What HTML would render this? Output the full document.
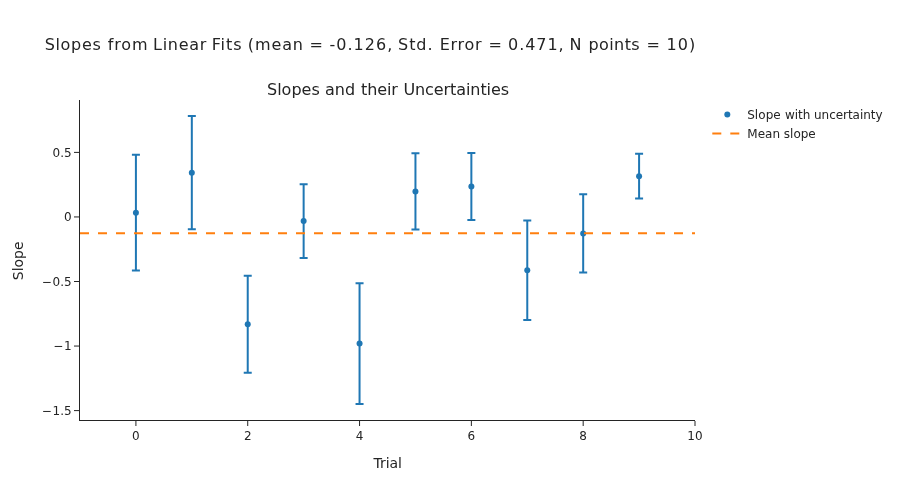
<!DOCTYPE html>
<html><head><meta charset="utf-8"><title>Slopes</title>
<style>
html,body{margin:0;padding:0;background:#fff;}
svg{display:block;font-family:"DejaVu Sans","Liberation Sans",sans-serif;}
</style></head><body>
<svg width="900" height="500" viewBox="0 0 900 500">
<rect width="900" height="500" fill="#fff"/>
<path d="M131.91,154.8h8m-4,0V270.6m-4,0h8" stroke="#1f77b4" stroke-width="2" fill="none"/>
<path d="M187.82,116.0h8m-4,0V229.35m-4,0h8" stroke="#1f77b4" stroke-width="2" fill="none"/>
<path d="M243.73,275.7h8m-4,0V372.7m-4,0h8" stroke="#1f77b4" stroke-width="2" fill="none"/>
<path d="M299.64,184.2h8m-4,0V257.9m-4,0h8" stroke="#1f77b4" stroke-width="2" fill="none"/>
<path d="M355.55,283.3h8m-4,0V404.0m-4,0h8" stroke="#1f77b4" stroke-width="2" fill="none"/>
<path d="M411.45,153.2h8m-4,0V229.6m-4,0h8" stroke="#1f77b4" stroke-width="2" fill="none"/>
<path d="M467.36,153.0h8m-4,0V220.0m-4,0h8" stroke="#1f77b4" stroke-width="2" fill="none"/>
<path d="M523.27,220.6h8m-4,0V320.0m-4,0h8" stroke="#1f77b4" stroke-width="2" fill="none"/>
<path d="M579.18,194.3h8m-4,0V272.6m-4,0h8" stroke="#1f77b4" stroke-width="2" fill="none"/>
<path d="M635.09,153.8h8m-4,0V198.6m-4,0h8" stroke="#1f77b4" stroke-width="2" fill="none"/>
<circle cx="135.91" cy="212.7" r="3" fill="#1f77b4"/>
<circle cx="191.82" cy="172.7" r="3" fill="#1f77b4"/>
<circle cx="247.73" cy="324.25" r="3" fill="#1f77b4"/>
<circle cx="303.64" cy="221.0" r="3" fill="#1f77b4"/>
<circle cx="359.55" cy="343.55" r="3" fill="#1f77b4"/>
<circle cx="415.45" cy="191.4" r="3" fill="#1f77b4"/>
<circle cx="471.36" cy="186.4" r="3" fill="#1f77b4"/>
<circle cx="527.27" cy="270.3" r="3" fill="#1f77b4"/>
<circle cx="583.18" cy="233.5" r="3" fill="#1f77b4"/>
<circle cx="639.09" cy="176.2" r="3" fill="#1f77b4"/>
<path d="M80,233.25L695,233.25" stroke="#ff7f0e" stroke-width="2" stroke-dasharray="9,9" fill="none"/>
<path d="M79.5,100V421" stroke="#242424" stroke-width="1" fill="none"/>
<path d="M79,420.5H695" stroke="#242424" stroke-width="1" fill="none"/>
<path d="M135.91,421v5" stroke="#242424" stroke-width="1"/>
<text x="135.91" y="440.4" text-anchor="middle" font-size="12" fill="#242424">0</text>
<path d="M247.73,421v5" stroke="#242424" stroke-width="1"/>
<text x="247.73" y="440.4" text-anchor="middle" font-size="12" fill="#242424">2</text>
<path d="M359.55,421v5" stroke="#242424" stroke-width="1"/>
<text x="359.55" y="440.4" text-anchor="middle" font-size="12" fill="#242424">4</text>
<path d="M471.36,421v5" stroke="#242424" stroke-width="1"/>
<text x="471.36" y="440.4" text-anchor="middle" font-size="12" fill="#242424">6</text>
<path d="M583.18,421v5" stroke="#242424" stroke-width="1"/>
<text x="583.18" y="440.4" text-anchor="middle" font-size="12" fill="#242424">8</text>
<path d="M695.00,421v5" stroke="#242424" stroke-width="1"/>
<text x="695.00" y="440.4" text-anchor="middle" font-size="12" fill="#242424">10</text>
<path d="M79,152.4h-5" stroke="#242424" stroke-width="1"/>
<text x="71.6" y="156.60" text-anchor="end" font-size="12" fill="#242424">0.5</text>
<path d="M79,216.95h-5" stroke="#242424" stroke-width="1"/>
<text x="71.6" y="221.15" text-anchor="end" font-size="12" fill="#242424">0</text>
<path d="M79,281.5h-5" stroke="#242424" stroke-width="1"/>
<text x="71.6" y="285.70" text-anchor="end" font-size="12" fill="#242424"><tspan>−</tspan><tspan dx="0.6">0.5</tspan></text>
<path d="M79,346.05h-5" stroke="#242424" stroke-width="1"/>
<text x="71.6" y="350.25" text-anchor="end" font-size="12" fill="#242424"><tspan>−</tspan><tspan dx="0.6">1</tspan></text>
<path d="M79,410.6h-5" stroke="#242424" stroke-width="1"/>
<text x="71.6" y="414.80" text-anchor="end" font-size="12" fill="#242424"><tspan>−</tspan><tspan dx="0.6">1.5</tspan></text>
<text id="title" y="50" font-size="16" fill="#242424" xml:space="preserve"><tspan x="44.65" letter-spacing="0.680">Slopes</tspan> <tspan x="107.75" letter-spacing="0.866">from</tspan> <tspan x="153.10" letter-spacing="0.690">Linear</tspan> <tspan x="211.65" letter-spacing="0.917">Fits</tspan> <tspan x="247.85" letter-spacing="0.875">(mean</tspan> <tspan x="309.40" letter-spacing="0.000">=</tspan> <tspan x="329.40" letter-spacing="1.042">-0.126,</tspan> <tspan x="398.10" letter-spacing="0.900">Std.</tspan> <tspan x="439.65" letter-spacing="0.762">Error</tspan> <tspan x="488.55" letter-spacing="0.000">=</tspan> <tspan x="508.10" letter-spacing="0.920">0.471,</tspan> <tspan x="569.54" letter-spacing="0.000">N</tspan> <tspan x="588.55" letter-spacing="0.390">points</tspan> <tspan x="646.40" letter-spacing="0.000">=</tspan> <tspan x="666.40" letter-spacing="1.125">10)</tspan></text>
<text id="sub" y="94.8" font-size="16" fill="#242424" xml:space="preserve"><tspan x="267.00" letter-spacing="0.000">Slopes</tspan> <tspan x="325.00" letter-spacing="-0.025">and</tspan> <tspan x="360.95" letter-spacing="-0.075">their</tspan> <tspan x="403.40" letter-spacing="-0.083">Uncertainties</tspan></text>
<text x="387.7" y="467.5" text-anchor="middle" font-size="14" fill="#242424">Trial</text>
<text transform="rotate(-90,23.1,260.8)" x="23.1" y="260.8" text-anchor="middle" font-size="14" fill="#242424">Slope</text>
<circle cx="727.3" cy="114.5" r="3" fill="#1f77b4"/>
<text id="leg1" y="118.7" font-size="12" fill="#242424" xml:space="preserve"><tspan x="747.20" letter-spacing="0.051">Slope</tspan> <tspan x="784.95" letter-spacing="-0.000">with</tspan> <tspan x="814.05" letter-spacing="-0.050">uncertainty</tspan></text>
<path d="M712.3,133.5h30" stroke="#ff7f0e" stroke-width="2" stroke-dasharray="9,9" fill="none"/>
<text x="747.3" y="137.7" font-size="12" fill="#242424">Mean slope</text>
</svg>
</body></html>
